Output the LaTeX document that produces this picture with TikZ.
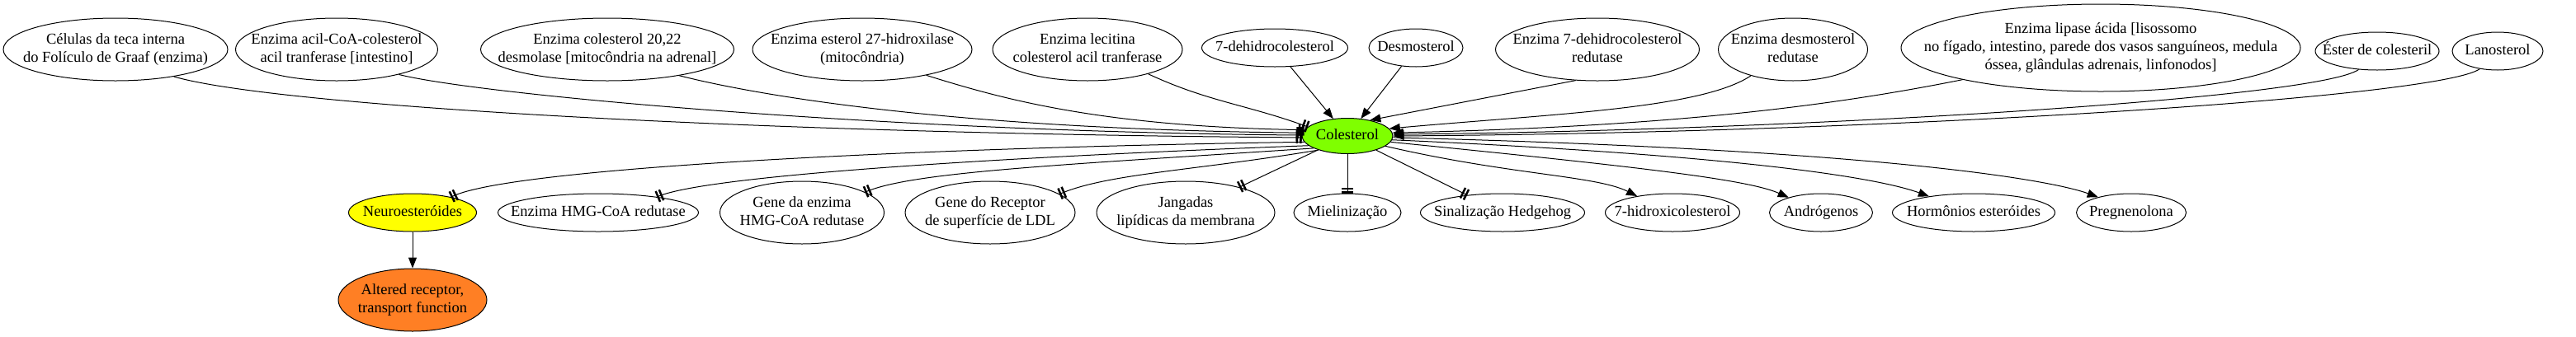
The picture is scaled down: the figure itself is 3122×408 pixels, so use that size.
\documentclass[tikz,border=0pt]{standalone}
\usepackage{fontspec}
\setmainfont{Liberation Serif}
\usetikzlibrary{shapes.geometric,arrows.meta}
\definecolor{colgreen}{HTML}{7FFF00}
\definecolor{neuroyellow}{HTML}{FFFF00}
\definecolor{altorange}{HTML}{FF7F24}
\newcommand\lbl[1]{\makebox[0pt]{\begin{tabular}{@{}c@{}}#1\end{tabular}}}
\begin{document}
\begin{tikzpicture}[x=1pt,y=1pt,line width=1pt,
    every node/.style={ellipse,draw,inner sep=0pt,font=\fontsize{18.5}{22}\selectfont},
    one/.style={minimum height=46pt},
    two/.style={minimum height=76pt},
    tt/.style={-{Bar[width=14pt,line width=2.5pt,sep=2pt]Bar[width=14pt,line width=2.5pt]}},
    ar/.style={-{Triangle[length=13pt,width=10pt]}}]
  \useasboundingbox (0,0) rectangle (3122,-408);
  \draw
    (140,-60) node[two,minimum width=272pt] (celulas){\lbl{Células da teca interna\\do Folículo de Graaf (enzima)}}
    (408,-60) node[two,minimum width=245pt] (acil){\lbl{Enzima acil-CoA-colesterol\\acil tranferase [intestino]}}
    (736,-60) node[two,minimum width=307pt] (desmolase){\lbl{Enzima colesterol 20,22\\desmolase [mitocôndria na adrenal]}}
    (1045,-60) node[two,minimum width=266pt] (hidroxilase){\lbl{Enzima esterol 27-hidroxilase\\(mitocôndria)}}
    (1318,-60) node[two,minimum width=230pt] (lecitina){\lbl{Enzima lecitina\\colesterol acil tranferase}}
    (1545,-58) node[one,minimum width=177pt] (dehidro){\lbl{7-dehidrocolesterol}}
    (1716,-58) node[one,minimum width=114pt] (desmosterol){\lbl{Desmosterol}}
    (1936,-60) node[two,minimum width=247pt] (dhred){\lbl{Enzima 7-dehidrocolesterol\\redutase}}
    (2173,-60) node[two,minimum width=181pt] (dsred){\lbl{Enzima desmosterol\\redutase}}
    (2546,-58) node[minimum height=106pt,minimum width=484pt] (lipase){\lbl{Enzima lipase ácida [lisossomo\\no fígado, intestino, parede dos vasos sanguíneos, medula\\óssea, glândulas adrenais, linfonodos]}}
    (2881,-62) node[one,minimum width=150pt] (ester){\lbl{Éster de colesteril}}
    (3027,-62) node[one,minimum width=110pt] (lano){\lbl{Lanosterol}}
    (1633,-165) node[fill=colgreen,minimum height=43pt,minimum width=110pt] (col){\lbl{Colesterol}}
    (500,-258) node[one,fill=neuroyellow,minimum width=155pt] (neuro){\lbl{Neuroesteróides}}
    (725,-258) node[one,minimum width=243pt] (hmg){\lbl{Enzima HMG-CoA redutase}}
    (972,-258) node[two,minimum width=199pt] (geneenz){\lbl{Gene da enzima\\HMG-CoA redutase}}
    (1200,-258) node[two,minimum width=206pt] (generec){\lbl{Gene do Receptor\\de superfície de LDL}}
    (1437,-258) node[two,minimum width=216pt] (jang){\lbl{Jangadas\\lipídicas da membrana}}
    (1633,-258) node[one,minimum width=130pt] (miel){\lbl{Mielinização}}
    (1821,-258) node[one,minimum width=199pt] (hedge){\lbl{Sinalização Hedgehog}}
    (2027,-258) node[one,minimum width=163pt] (hidroxi){\lbl{7-hidroxicolesterol}}
    (2207,-258) node[one,minimum width=125pt] (andro){\lbl{Andrógenos}}
    (2392,-258) node[one,minimum width=197pt] (horm){\lbl{Hormônios esteróides}}
    (2583,-258) node[one,minimum width=133pt] (preg){\lbl{Pregnenolona}}
    (500,-364) node[two,fill=altorange,minimum width=180pt] (altered){\lbl{Altered receptor,\\transport function}};
  \begin{scope}[tt]
    \draw (celulas.-25) .. controls +(120,-35) and +(-680,5) .. (col.182);
    \draw (acil.-22) .. controls +(100,-25) and +(-500,4) .. (col.179);
    \draw (desmolase.-20) .. controls +(110,-28) and +(-400,4) .. (col.176);
    \draw (hidroxilase.-22) .. controls +(90,-28) and +(-250,4) .. (col.172);
    \draw (lecitina.-22) to[out=-25,in=160] (col.167);
    \draw (col.188) .. controls +(-480,-7) and +(72,35) .. (neuro.22);
    \draw (col.194) .. controls +(-400,-15) and +(60,25) .. (hmg.15);
    \draw (col.200) .. controls +(-300,-20) and +(60,25) .. (geneenz.18);
    \draw (col.206) .. controls +(-150,-25) and +(60,25) .. (generec.15);
    \draw (col) -- (jang);
    \draw (col) -- (miel);
    \draw (col) -- (hedge);
  \end{scope}
  \begin{scope}[ar]
    \draw (dehidro) -- (col);
    \draw (desmosterol) -- (col);
    \draw (dhred.235) -- (col.35);
    \draw (dsred.212) .. controls +(-60,-40) and +(200,18) .. (col.10);
    \draw (lipase.193) .. controls +(-150,-30) and +(350,8) .. (col.4);
    \draw (ester.225) .. controls +(-50,-35) and +(500,5) .. (col.2);
    \draw (lano.225) .. controls +(-50,-35) and +(600,4) .. (col.0);
    \draw (col.-15) .. controls +(150,-35) and +(-50,25) .. (hidroxi.155);
    \draw (col.-8) .. controls +(300,-30) and +(-50,22) .. (andro.155);
    \draw (col.-5) .. controls +(450,-20) and +(-55,20) .. (horm.160);
    \draw (col.-2) .. controls +(600,-15) and +(-55,20) .. (preg.155);
    \draw (neuro) -- (altered);
  \end{scope}
\end{tikzpicture}
\end{document}
